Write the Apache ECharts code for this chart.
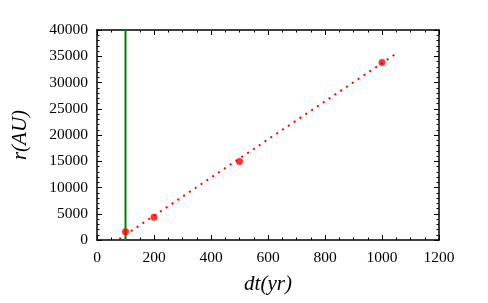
<!DOCTYPE html>
<html>
<head>
<meta charset="utf-8">
<script src="https://cdn.jsdelivr.net/npm/echarts@6/dist/echarts.min.js"></script>
<style>
  html, body { margin: 0; padding: 0; background: #fff; }
  #chart { width: 488px; height: 303px; }
</style>
</head>
<body>
<div id="chart"></div>
<script>
// measured points
const dtYears = [100, 200, 500, 1000];
const radiusAU = [1550, 4350, 14950, 33800];
// dotted fit line end points
const fitX = [78, 1050];
const fitY = [190, 35500];
// vertical marker
const markerX = 100;

const serif = "Liberation Serif";

function frameAxis(pos, isX, showLabel) {
  const ax = {
    type: "value",
    position: pos,
    min: 0,
    max: isX ? 1200 : 40000,
    interval: isX ? 200 : 5000,
    axisLine: { show: true, onZero: false, lineStyle: { color: "#000", width: 1.5 } },
    axisTick: { show: true, inside: true, length: 5, lineStyle: { color: "#000", width: 1 } },
    minorTick: { show: true, splitNumber: isX ? 4 : 5, length: 2.5, lineStyle: { color: "#000", width: 1 } },
    splitLine: { show: false },
    axisLabel: {
      show: showLabel,
      fontFamily: serif,
      fontSize: 15.5,
      color: "#000",
      margin: isX ? 10 : 9,
      formatter: (v) => String(v),
    },
  };
  return ax;
}

const xMain = frameAxis("bottom", true, true);
xMain.name = "dt(yr)";
xMain.nameLocation = "middle";
xMain.nameGap = 34;
xMain.nameTextStyle = { fontFamily: serif, fontStyle: "italic", fontSize: 21, color: "#000" };

const yMain = frameAxis("left", false, true);
yMain.name = "r(AU)";
yMain.nameLocation = "middle";
yMain.nameGap = 66;
yMain.nameTextStyle = { fontFamily: serif, fontStyle: "italic", fontSize: 21, color: "#000" };

const option = {
  animation: false,
  grid: { left: 97, right: 49, top: 30, bottom: 63 },
  xAxis: [xMain, frameAxis("top", true, false)],
  yAxis: [yMain, frameAxis("right", false, false)],
  series: [
    {
      type: "line",
      data: [[markerX, 0], [markerX, 40000]],
      symbol: "none",
      lineStyle: { color: "#008000", width: 2 },
      z: 2,
    },
    {
      type: "line",
      data: fitX.map((x, i) => [x, fitY[i]]),
      symbol: "none",
      lineStyle: { color: "#ff0000", width: 2, type: [2, 5] },
      z: 3,
    },
    {
      type: "scatter",
      data: dtYears.map((x, i) => [x, radiusAU[i]]),
      symbolSize: 7,
      itemStyle: { color: "#ff0000" },
      z: 4,
    },
  ],
};

const myChart = echarts.init(document.getElementById("chart"));
myChart.setOption(option);
</script>
</body>
</html>
